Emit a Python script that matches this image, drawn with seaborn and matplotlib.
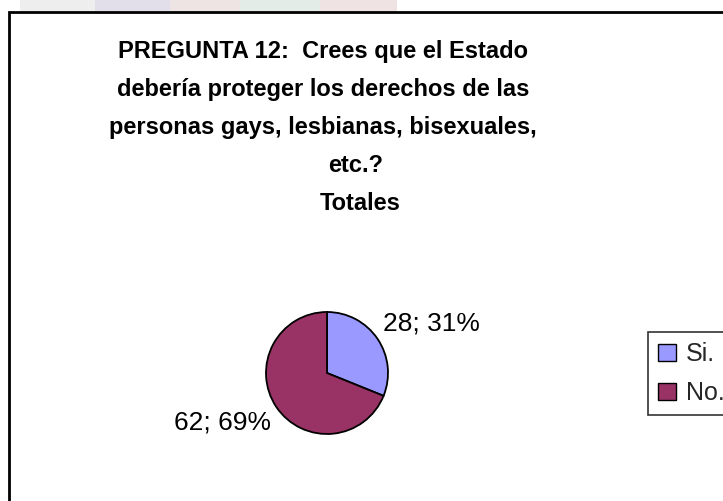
import matplotlib
matplotlib.use("Agg")
import matplotlib.pyplot as plt
import seaborn as sns
import numpy as np
from matplotlib.patches import Rectangle, Patch

# Survey answers
categories = ["Si.", "No."]
counts = [28, 62]
colors = ["#9999FF", "#993366"]
title_lines = [
    "PREGUNTA 12:  Crees que el Estado",
    "debería proteger los derechos de las",
    "personas gays, lesbianas, bisexuales,",
    "etc.?",
    "Totales",
]

sns.set_theme(style="white")
plt.rcParams["font.family"] = ["Liberation Sans", "DejaVu Sans"]

W, H = 723, 501
fig = plt.figure(figsize=(W / 100, H / 100), dpi=100)
fig.patch.set_facecolor("white")


def fx(px):
    return px / W


def fy(py):
    return 1 - py / H


# faint banner strip above the frame
banner = [(20, 95, "#eeeeee"), (95, 170, "#e2dfeb"), (170, 240, "#eee4e4"),
          (240, 320, "#e3ece6"), (320, 397, "#efe3e3")]
for x0, x1, col in banner:
    fig.add_artist(Rectangle((fx(x0), fy(11)), (x1 - x0) / W, 11 / H,
                             transform=fig.transFigure, facecolor=col, edgecolor="none"))

# chart frame (runs off the right and bottom edges)
fig.add_artist(Rectangle((fx(8.5), -0.1), 1.2, fy(11.5) + 0.1, transform=fig.transFigure,
                         fill=False, edgecolor="black", linewidth=2))

# title, one line at a time (wrapped lines sit a little left of the short ones)
line_centers = [323, 323, 323, 356, 360]
for i, (line, cx) in enumerate(zip(title_lines, line_centers)):
    fig.text(fx(cx), fy(58 + 38 * i), line, ha="center", va="baseline",
             fontsize=17, fontweight="bold", color="black")

# pie
ax = fig.add_axes([fx(266), fy(434), 122 / W, 122 / H])
wedges, _ = ax.pie(counts, colors=colors, startangle=90, counterclock=False,
                   wedgeprops=dict(edgecolor="black", linewidth=1.3))
for w in wedges:
    w.set_clip_on(False)
ax.set_xlim(-1, 1)
ax.set_ylim(-1, 1)
ax.set_aspect("equal")
ax.axis("off")

total = sum(counts)
for w, c in zip(wedges, counts):
    mid = np.deg2rad((w.theta1 + w.theta2) / 2)
    x, y = 1.1 * np.cos(mid), 1.1 * np.sin(mid)
    pct = round(100 * c / total)
    ax.text(x, y, f"{c}; {pct}%", ha="left" if x > 0 else "right",
            va="bottom" if y > 0 else "top", fontsize=19, color="black", clip_on=False)

# legend
handles = [Patch(facecolor=col, edgecolor="black", linewidth=1) for col in colors]
leg = fig.legend(handles, categories, loc="upper left", bbox_to_anchor=(fx(648), fy(332)),
                 frameon=True, fancybox=False, fontsize=18, handlelength=0.7, handleheight=0.7,
                 handletextpad=0.4, labelspacing=0.6, borderpad=0.4, borderaxespad=0)
leg.get_frame().set_edgecolor("black")
leg.get_frame().set_linewidth(1.2)

fig.savefig("out.png", dpi=100, facecolor="white")
